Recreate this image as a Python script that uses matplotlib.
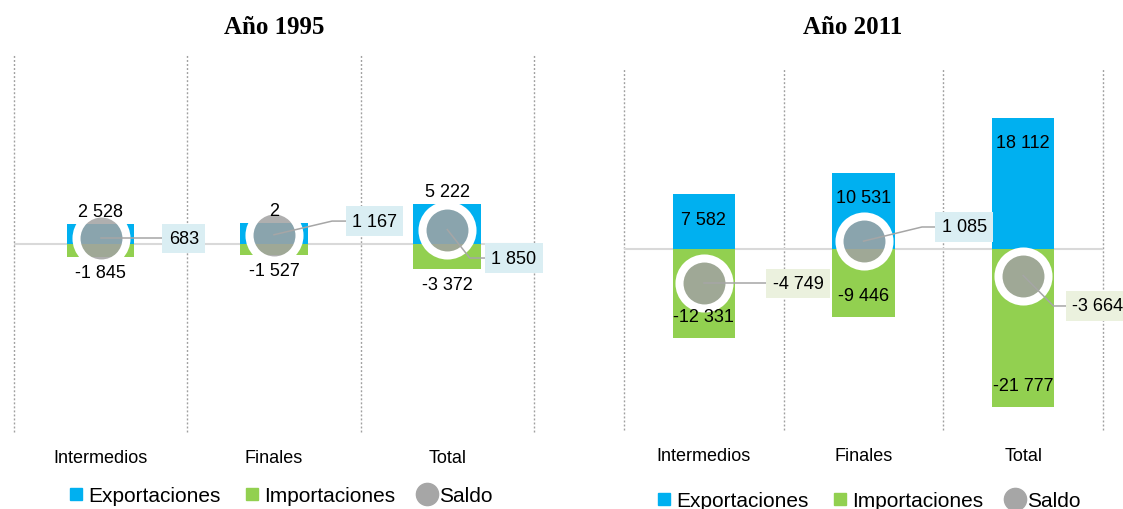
import matplotlib
matplotlib.use('Agg')
import matplotlib.pyplot as plt
from matplotlib.lines import Line2D

plt.rcParams['font.family'] = ['Liberation Sans', 'DejaVu Sans']

# Data
categorias = ['Intermedios', 'Finales', 'Total']
titulos = ['Año 1995', 'Año 2011']

export_1995 = [2528, 2694, 5222]
import_1995 = [-1845, -1527, -3372]
saldo_1995 = [683, 1167, 1850]

export_2011 = [7582, 10531, 18112]
import_2011 = [-12331, -9446, -21777]
saldo_2011 = [-4749, 1085, -3664]

# label shown truncated in the original
export_text_1995 = ['2 528', '2', '5 222']

# saldo callout layout: (dx, dy, knee dx)
callout_1995 = [(0.48, 0, None), (0.58, 1813, 0.335), (0.385, -3770, 0.13)]
callout_2011 = [(0.59, 0, None), (0.63, 1955, 0.366), (0.465, -4206, 0.19)]

AZUL = '#00B0F0'
VERDE = '#92D050'
GRIS = (0.635, 0.635, 0.635, 0.86)


def fmt(v):
    return f"{v:,}".replace(',', ' ')


def panel(ax, exp, imp, sal, callouts, inside, exp_text=None):
    x = list(range(len(categorias)))
    ax.bar(x, exp, 0.39, color=AZUL, zorder=2)
    ax.bar(x, imp, 0.39, color=VERDE, zorder=2)
    ax.axhline(0, color='#D9D9D9', lw=1.5, zorder=1)
    for b in [-0.5, 0.5, 1.5, 2.5]:
        ax.axvline(b, color='#A0A0A0', lw=1.0, ls=(0, (1.4, 1.5)), zorder=0, clip_on=False)
    ax.plot(x, sal, 'o', ls='none', ms=36, mfc=GRIS, mec='white', mew=5.8, zorder=3)

    if exp_text is None:
        exp_text = [fmt(v) for v in exp]
    for i in x:
        if inside:
            off_e, off_i = -18, 15.5
        else:
            off_e, off_i = 9, -11
        ax.annotate(exp_text[i], (i, exp[i]), xytext=(0, off_e), textcoords='offset points',
                    ha='center', va='center', fontsize=13, zorder=6)
        ax.annotate(fmt(imp[i]), (i, imp[i]), xytext=(0, off_i), textcoords='offset points',
                    ha='center', va='center', fontsize=13, zorder=6)

        dx, dy, knee = callouts[i]
        ty = sal[i] + dy
        if knee is None:
            ax.plot([i, i + dx], [sal[i], ty], color='#A6A6A6', lw=1.1, zorder=4)
        else:
            ax.plot([i, i + knee, i + dx], [sal[i], ty, ty], color='#A6A6A6', lw=1.1, zorder=4)
        fc = '#DAEEF3' if sal[i] >= 0 else '#EBF1DE'
        ax.text(i + dx, ty, fmt(sal[i]), ha='center', va='center', fontsize=13, zorder=5,
                bbox=dict(boxstyle='square,pad=0.35', fc=fc, ec='none'))

    ax.set_xlim(-0.5, 2.5)
    ax.set_ylim(-25000, 25000)
    ax.set_yticks([])
    ax.set_xticks(x, categorias)
    ax.tick_params(axis='x', length=0, pad=12.5, labelsize=13)
    for s in ax.spines.values():
        s.set_visible(False)


fig = plt.figure(figsize=(11.23, 5.1), dpi=100)
ax1 = fig.add_axes([0.01247, 0.151, 0.463, 0.739])
ax2 = fig.add_axes([0.5557, 0.1549, 0.4265, 0.7098])

panel(ax1, export_1995, import_1995, saldo_1995, callout_1995, False, export_text_1995)
panel(ax2, export_2011, import_2011, saldo_2011, callout_2011, True)

fig.text(274 / 1123, 1 - 27 / 510, titulos[0], ha='center', va='center', fontsize=18,
         fontweight='bold', family='Liberation Serif')
fig.text(853 / 1123, 1 - 27 / 510, titulos[1], ha='center', va='center', fontsize=18,
         fontweight='bold', family='Liberation Serif')

handles = [Line2D([], [], marker='s', ls='none', color=AZUL, ms=8),
           Line2D([], [], marker='o', ls='none', color=VERDE, ms=0),
           Line2D([], [], marker='o', ls='none', color='#A6A6A6', ms=16)]
handles[1] = Line2D([], [], marker='s', ls='none', color=VERDE, ms=8)
nombres = ['Exportaciones', 'Importaciones', 'Saldo']
for cx, cy in [(280, 13), (868, 8)]:
    fig.legend(handles, nombres, loc='center', bbox_to_anchor=(cx / 1123, cy / 510), ncol=3,
               frameon=False, fontsize=15, handlelength=0.8, handletextpad=0.2,
               columnspacing=1.1, borderpad=0, borderaxespad=0)

fig.savefig('out.png', dpi=100)
